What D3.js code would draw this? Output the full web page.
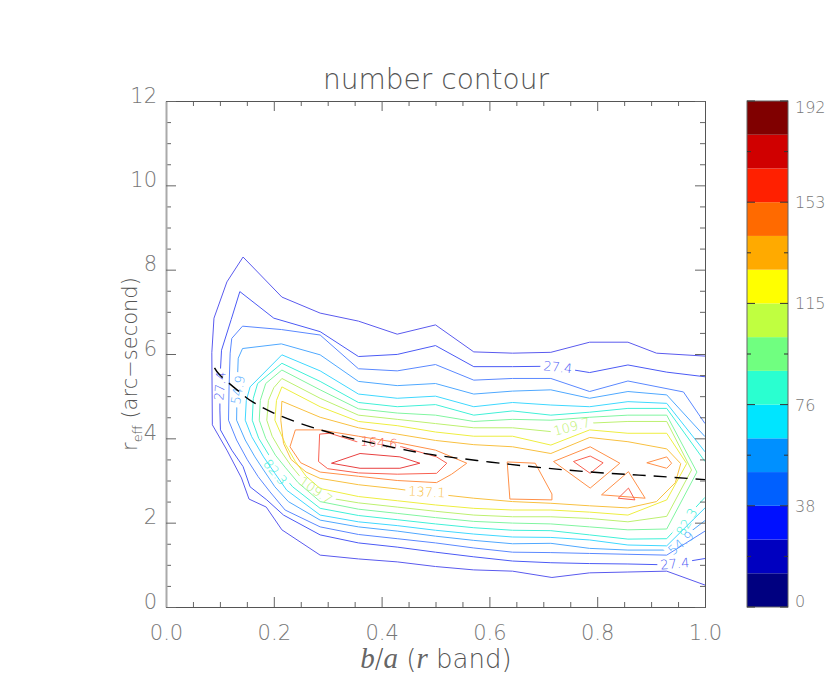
<!DOCTYPE html>
<html>
<head>
<meta charset="utf-8">
<script src="https://cdn.jsdelivr.net/npm/d3@7"></script>
<style>
body { margin: 0; background: #fff; }
text { font-family: "DejaVu Sans", sans-serif; font-weight: 200; }
</style>
</head>
<body>
<div id="chart"></div>
<script>
// contour levels and the colour each line is drawn with
const levels = [13.7, 27.4, 41.1, 54.9, 68.6, 82.3, 96.0, 109.7, 123.4, 137.1, 150.9, 164.6, 178.3]
const levelColors = ["#5a5aee", "#4b5af5", "#5a88ff", "#4fa8ff", "#3fd8ff", "#40f0d8", "#80f5a0",
    "#bdf070", "#eeee40", "#f8c040", "#ff9048", "#f86050", "#e84040"]

// contour lines, [b/a, r_eff]
const c01 = [[1.0,0.52],[0.929,0.85],[0.857,0.83],[0.786,0.81],[0.716,0.70],[0.643,0.85],[0.571,0.88],[0.5,0.96],[0.429,1.07],[0.357,1.14],[0.286,1.23],[0.215,1.83],[0.186,2.37],[0.154,2.56],[0.140,3.06],[0.113,3.72],[0.086,4.32],[0.085,6.03],[0.089,6.85],[0.113,7.71],[0.143,8.30],[0.215,7.35],[0.286,6.97],[0.357,6.78],[0.429,6.47],[0.5,6.69],[0.571,6.05],[0.643,6.02],[0.714,6.04],[0.786,6.28],[0.857,6.28],[0.91,6.02],[1.0,5.95]]
const c02 = [[1.0,1.15],[0.929,1.00],[0.857,1.02],[0.786,1.03],[0.714,1.05],[0.643,1.09],[0.571,1.19],[0.5,1.30],[0.429,1.42],[0.357,1.52],[0.286,1.71],[0.218,2.18],[0.187,2.54],[0.156,2.85],[0.143,3.33],[0.122,3.72],[0.101,4.20],[0.1,4.67],[0.1,5.38],[0.103,6.09],[0.121,6.82],[0.137,7.48],[0.2,6.85],[0.286,6.53],[0.357,5.94],[0.429,5.99],[0.5,6.20],[0.571,5.70],[0.643,5.70],[0.714,5.71],[0.786,5.56],[0.857,5.74],[0.929,5.57],[1.0,5.46]]
const c03 = [[1.0,1.80],[0.929,1.23],[0.857,1.25],[0.786,1.27],[0.714,1.29],[0.643,1.30],[0.571,1.40],[0.5,1.52],[0.429,1.62],[0.357,1.72],[0.286,1.90],[0.221,2.30],[0.193,2.73],[0.171,3.09],[0.151,3.49],[0.131,3.96],[0.116,4.43],[0.117,5.22],[0.119,6.02],[0.122,6.37],[0.142,6.66],[0.214,6.58],[0.286,6.45],[0.357,5.65],[0.429,5.60],[0.5,5.75],[0.571,5.38],[0.643,5.42],[0.714,5.42],[0.786,5.11],[0.857,5.36],[0.96,5.10],[1.0,4.35]]
const c04 = [[1.0,2.05],[0.929,1.35],[0.857,1.35],[0.786,1.39],[0.714,1.51],[0.643,1.50],[0.571,1.58],[0.5,1.68],[0.429,1.80],[0.357,1.90],[0.286,2.06],[0.227,2.50],[0.202,2.85],[0.181,3.25],[0.165,3.56],[0.147,3.96],[0.131,4.43],[0.132,5.2],[0.134,5.9],[0.142,6.13],[0.214,6.24],[0.286,5.98],[0.357,5.35],[0.429,5.25],[0.5,5.30],[0.571,5.05],[0.643,5.12],[0.714,5.15],[0.786,4.95],[0.857,5.11],[0.929,5.03],[1.0,4.04]]
const c05 = [[1.0,2.35],[0.929,1.45],[0.857,1.47],[0.786,1.59],[0.714,1.65],[0.643,1.66],[0.571,1.73],[0.5,1.82],[0.429,1.93],[0.357,2.02],[0.286,2.18],[0.224,2.77],[0.202,3.17],[0.181,3.56],[0.159,4.04],[0.147,4.43],[0.149,4.9],[0.156,5.22],[0.215,5.98],[0.286,5.6],[0.357,5.05],[0.429,4.95],[0.5,5.0],[0.571,4.75],[0.643,4.85],[0.714,4.79],[0.786,4.75],[0.857,4.87],[0.929,4.83],[1.0,3.68]]
const c06 = [[1.0,2.60],[0.929,1.62],[0.857,1.61],[0.786,1.71],[0.714,1.81],[0.643,1.82],[0.571,1.88],[0.5,1.97],[0.429,2.07],[0.357,2.17],[0.286,2.34],[0.235,2.85],[0.212,3.2],[0.193,3.56],[0.172,4.0],[0.160,4.43],[0.162,4.95],[0.17,5.3],[0.215,5.78],[0.286,5.35],[0.357,4.85],[0.429,4.75],[0.5,4.80],[0.571,4.55],[0.643,4.65],[0.714,4.55],[0.786,4.62],[0.857,4.71],[0.929,4.71],[1.0,3.45]]
const c07 = [[0.985,3.2],[0.929,1.85],[0.857,1.83],[0.786,1.90],[0.714,1.97],[0.643,1.99],[0.571,2.03],[0.5,2.12],[0.429,2.22],[0.357,2.32],[0.286,2.50],[0.245,2.95],[0.222,3.3],[0.203,3.6],[0.185,4.0],[0.173,4.43],[0.175,4.9],[0.185,5.3],[0.215,5.62],[0.286,5.15],[0.357,4.70],[0.429,4.60],[0.5,4.55],[0.571,4.40],[0.643,4.45],[0.714,4.43],[0.786,4.50],[0.857,4.55],[0.929,4.55],[0.985,3.2]]
const c08 = [[0.975,3.25],[0.929,2.15],[0.857,2.02],[0.786,2.10],[0.714,2.14],[0.643,2.14],[0.571,2.18],[0.5,2.27],[0.429,2.37],[0.357,2.47],[0.286,2.62],[0.255,3.0],[0.232,3.35],[0.213,3.7],[0.197,4.05],[0.187,4.43],[0.19,4.9],[0.2,5.2],[0.215,5.42],[0.286,4.95],[0.357,4.55],[0.429,4.45],[0.5,4.35],[0.571,4.25],[0.643,4.25],[0.714,4.16],[0.786,4.36],[0.857,4.40],[0.929,4.40],[0.975,3.25]]
const c09 = [[0.966,3.4],[0.929,2.54],[0.857,2.18],[0.786,2.25],[0.714,2.30],[0.643,2.30],[0.571,2.34],[0.5,2.42],[0.429,2.52],[0.357,2.62],[0.286,2.81],[0.26,3.1],[0.24,3.45],[0.222,3.85],[0.202,4.43],[0.205,4.9],[0.215,5.22],[0.286,4.75],[0.357,4.40],[0.429,4.30],[0.5,4.15],[0.571,4.05],[0.643,4.05],[0.714,3.84],[0.786,4.20],[0.857,4.12],[0.929,4.12],[0.966,3.4]]
const c10 = [[0.215,4.88],[0.213,4.43],[0.218,3.88],[0.232,3.5],[0.26,3.2],[0.286,3.05],[0.357,2.9],[0.429,2.80],[0.5,2.68],[0.571,2.58],[0.643,2.50],[0.714,2.46],[0.786,2.40],[0.857,2.35],[0.91,2.5],[0.945,2.95],[0.955,3.4],[0.929,3.75],[0.857,3.92],[0.786,4.02],[0.714,3.64],[0.643,3.80],[0.571,3.85],[0.5,3.95],[0.429,4.10],[0.357,4.25],[0.286,4.50],[0.215,4.88]]
const c11a = [[0.24,4.2],[0.23,3.8],[0.25,3.42],[0.286,3.2],[0.357,3.1],[0.429,3.0],[0.502,2.95],[0.53,3.15],[0.558,3.41],[0.5,3.72],[0.429,3.9],[0.357,4.05],[0.286,4.2],[0.24,4.2]]
const c11b = [[0.633,3.44],[0.685,3.41],[0.716,2.68],[0.716,2.54],[0.638,2.56],[0.633,3.44]]
const c11c = [[0.719,3.45],[0.787,3.80],[0.842,3.41],[0.787,2.82],[0.719,3.45]]
const c11d = [[0.808,2.66],[0.858,3.21],[0.889,2.58],[0.808,2.66]]
const c11e = [[0.892,3.42],[0.929,3.56],[0.938,3.41],[0.929,3.29],[0.892,3.42]]
const c12a = [[0.285,4.1],[0.304,4.12],[0.354,3.92],[0.437,3.80],[0.502,3.56],[0.521,3.41],[0.502,3.17],[0.429,3.15],[0.357,3.18],[0.30,3.28],[0.283,3.45],[0.285,4.1]]
const c12b = [[0.756,3.45],[0.787,3.58],[0.811,3.42],[0.787,3.17],[0.756,3.45]]
const c12c = [[0.839,2.58],[0.858,2.82],[0.870,2.54],[0.839,2.58]]
const c13 = [[0.307,3.41],[0.360,3.64],[0.434,3.56],[0.471,3.41],[0.434,3.29],[0.360,3.29],[0.307,3.41]]
const contourLines = [[c01], [c02], [c03], [c04], [c05], [c06], [c07], [c08], [c09], [c10],
    [c11a, c11b, c11c, c11d, c11e], [c12a, c12b, c12c], [c13]]

// labels written on the lines
const labelLevel = [27.4, 54.9, 27.4, 109.7, 164.6, 137.1, 82.3, 109.7, 82.3, 54.9, 27.4]
const labelX = [0.100, 0.133, 0.727, 0.753, 0.395, 0.484, 0.203, 0.278, 0.966, 0.955, 0.944]
const labelY = [5.24, 5.15, 5.69, 4.28, 3.90, 2.73, 3.20, 2.77, 2.02, 1.52, 1.03]
const labelAngle = [-85, -80, 6, -15, 5, 3, 50, 35, -60, -40, -5]

// dashed fit line
const fitX = [0.09, 0.1, 0.125, 0.143, 0.16, 0.2, 0.25, 0.3, 0.35, 0.4, 0.45, 0.5, 0.6, 0.7, 0.8, 0.9, 1.0]
const fitY = [5.67, 5.5, 5.22, 5.03, 4.87, 4.6, 4.35, 4.15, 3.98, 3.84, 3.71, 3.6, 3.44, 3.3, 3.19, 3.11, 3.02]

// axes
const xMajor = [0, 0.2, 0.4, 0.6, 0.8, 1.0]
const xMinor = [0.05, 0.1, 0.15, 0.25, 0.3, 0.35, 0.45, 0.5, 0.55, 0.65, 0.7, 0.75, 0.85, 0.9, 0.95]
const yMajor = [0, 2, 4, 6, 8, 10, 12]
const yMinor = [0.5, 1, 1.5, 2.5, 3, 3.5, 4.5, 5, 5.5, 6.5, 7, 7.5, 8.5, 9, 9.5, 10.5, 11, 11.5]

// colour bar
const cbEdges = [0, 12.8, 25.6, 38.4, 51.2, 64, 76.8, 89.6, 102.4, 115.2, 128, 140.8, 153.6, 166.4, 179.2, 192]
const cbColors = ["#000080", "#0000c0", "#0010ff", "#0060ff", "#0090ff", "#00e5ff", "#2affd0", "#70ff80",
    "#c0ff40", "#ffff00", "#ffaa00", "#ff6a00", "#ff2000", "#d00000", "#800000"]
const cbMajor = [0, 38.4, 76.8, 115.2, 153.6, 192]
const cbLabels = ["0", "38", "76", "115", "153", "192"]
const cbMinor = [19.2, 57.6, 96, 134.4, 172.8]

const W = 830, H = 675
const svg = d3.select("#chart").append("svg")
    .attr("width", W)
    .attr("height", H)
    .style("background", "#fff")

const x = d3.scaleLinear().domain([0, 1]).range([166, 705])
const y = d3.scaleLinear().domain([0, 12]).range([607, 101])
const line = d3.line().x(d => x(d[0])).y(d => y(d[1]))

const defs = svg.append("defs")
defs.append("clipPath").attr("id", "plotclip")
    .append("rect").attr("x", 166).attr("y", 101).attr("width", 539).attr("height", 506)

// one mask per level so a label only cuts its own line
levels.forEach((lv, i) => {
    defs.append("mask").attr("id", "mask" + i)
        .attr("maskUnits", "userSpaceOnUse")
        .attr("x", 0).attr("y", 0).attr("width", W).attr("height", H)
        .append("rect").attr("width", W).attr("height", H).attr("fill", "#fff")
})

// contour lines
const gc = svg.append("g").attr("clip-path", "url(#plotclip)")
contourLines.forEach((pieces, i) => {
    gc.append("g")
        .attr("mask", "url(#mask" + i + ")")
        .selectAll("path")
        .data(pieces)
        .enter()
        .append("path")
        .attr("d", line)
        .attr("fill", "none")
        .attr("stroke", levelColors[i])
        .attr("stroke-width", 1)
})

// contour labels
const gl = svg.append("g")
labelLevel.forEach((lv, j) => {
    const i = levels.indexOf(lv)
    const tr = "translate(" + x(labelX[j]) + "," + y(labelY[j]) + ") rotate(" + labelAngle[j] + ")"
    const t = gl.append("text")
        .attr("transform", tr)
        .attr("text-anchor", "middle")
        .attr("dy", "0.36em")
        .attr("font-size", 13)
        .attr("fill", levelColors[i])
        .text(lv.toFixed(1))
    const len = t.node().getComputedTextLength()
    d3.select("#mask" + i).append("rect")
        .attr("transform", tr)
        .attr("x", -len / 2 - 3).attr("y", -7)
        .attr("width", len + 6).attr("height", 14)
        .attr("fill", "#000")
})

// dashed curve
svg.append("path")
    .datum(fitX.map((v, k) => [v, fitY[k]]))
    .attr("d", d3.line().x(d => x(d[0])).y(d => y(d[1])).curve(d3.curveNatural))
    .attr("fill", "none")
    .attr("stroke", "#000")
    .attr("stroke-width", 1.4)
    .attr("stroke-dasharray", "13,8")

// axes, ticks point inwards on all four sides
function styleAxis(g) {
    g.select(".domain").attr("stroke", "#555")
    g.selectAll(".tick line").attr("stroke", "#666")
    g.selectAll(".tick text").attr("fill", "#777").attr("font-size", 21)
        .attr("font-family", "DejaVu Sans").attr("font-weight", 200)
}
svg.append("g").attr("transform", "translate(0,607)")
    .call(d3.axisBottom(x).tickValues(xMinor).tickSize(-5).tickSizeOuter(0).tickFormat(""))
    .call(styleAxis)
svg.append("g").attr("transform", "translate(0,607)")
    .call(d3.axisBottom(x).tickValues(xMajor).tickSize(-10).tickSizeOuter(0).tickPadding(18).tickFormat(d3.format(".1f")))
    .call(styleAxis)
svg.append("g").attr("transform", "translate(0,101)")
    .call(d3.axisTop(x).tickValues(xMinor).tickSize(-5).tickSizeOuter(0).tickFormat(""))
    .call(styleAxis)
svg.append("g").attr("transform", "translate(0,101)")
    .call(d3.axisTop(x).tickValues(xMajor).tickSize(-10).tickSizeOuter(0).tickFormat(""))
    .call(styleAxis)
svg.append("g").attr("transform", "translate(705,0)")
    .call(d3.axisRight(y).tickValues(yMinor).tickSize(-5).tickSizeOuter(0).tickFormat(""))
    .call(styleAxis)
svg.append("g").attr("transform", "translate(705,0)")
    .call(d3.axisRight(y).tickValues(yMajor).tickSize(-10).tickSizeOuter(0).tickFormat(""))
    .call(styleAxis)
svg.append("g").attr("transform", "translate(166,0)")
    .call(d3.axisLeft(y).tickValues(yMinor).tickSize(-5).tickSizeOuter(0).tickFormat(""))
    .call(styleAxis)
const yl = svg.append("g").attr("transform", "translate(166,0)")
    .call(d3.axisLeft(y).tickValues(yMajor).tickSize(-10).tickSizeOuter(0).tickPadding(9))
    .call(styleAxis)
yl.selectAll(".tick text").attr("dy", "0.05em")
yl.select(".domain").attr("stroke", "#aaa").attr("stroke-width", 2)

// title and axis titles
svg.append("text")
    .attr("x", 436).attr("y", 89)
    .attr("text-anchor", "middle")
    .attr("font-size", 28)
    .attr("fill", "#555")
    .text("number contour")

const xt = svg.append("text")
    .attr("x", 436).attr("y", 668)
    .attr("text-anchor", "middle")
    .attr("font-size", 26)
    .attr("fill", "#555")
xt.append("tspan").attr("font-family", "Liberation Serif").attr("font-style", "italic").attr("font-size", 29).attr("fill", "#666").text("b")
xt.append("tspan").text("/")
xt.append("tspan").attr("font-family", "Liberation Serif").attr("font-style", "italic").attr("font-size", 29).attr("fill", "#666").text("a")
xt.append("tspan").text(" (")
xt.append("tspan").attr("font-family", "Liberation Serif").attr("font-style", "italic").attr("font-size", 29).attr("fill", "#666").text("r")
xt.append("tspan").text(" band)")

const ytl = svg.append("text")
    .attr("transform", "translate(137,364) rotate(-90)")
    .attr("text-anchor", "middle")
    .attr("font-size", 21)
    .attr("fill", "#555")
ytl.append("tspan").text("r")
ytl.append("tspan").attr("font-size", 13).attr("dy", 5).text("eff")
ytl.append("tspan").attr("dy", -5).text(" (arc\u2212second)")

// colour bar
const cy = d3.scaleLinear().domain([0, 192]).range([607, 101])
const cb = svg.append("g")
cb.selectAll("rect.band")
    .data(cbColors)
    .enter()
    .append("rect")
    .attr("class", "band")
    .attr("x", 747)
    .attr("width", 41)
    .attr("y", (d, k) => cy(cbEdges[k + 1]))
    .attr("height", (d, k) => cy(cbEdges[k]) - cy(cbEdges[k + 1]))
    .attr("fill", d => d)
cb.append("rect")
    .attr("x", 747).attr("y", 101).attr("width", 41).attr("height", 506)
    .attr("fill", "none").attr("stroke", "#666").attr("stroke-width", 1)
cb.selectAll("line.tk")
    .data(cbMajor.concat(cbMinor))
    .enter()
    .append("line")
    .attr("class", "tk")
    .attr("x1", 747).attr("x2", d => 747 + (cbMajor.includes(d) ? 8 : 4))
    .attr("y1", d => cy(d)).attr("y2", d => cy(d))
    .attr("stroke", "#333")
cb.selectAll("line.tk2")
    .data(cbMajor.concat(cbMinor))
    .enter()
    .append("line")
    .attr("class", "tk2")
    .attr("x1", 788).attr("x2", d => 788 - (cbMajor.includes(d) ? 8 : 4))
    .attr("y1", d => cy(d)).attr("y2", d => cy(d))
    .attr("stroke", "#333")
cb.selectAll("text.cbl")
    .data(cbMajor)
    .enter()
    .append("text")
    .attr("class", "cbl")
    .attr("x", 795)
    .attr("y", (d, k) => k === 0 ? cy(d) : (k === cbMajor.length - 1 ? cy(d) + 12 : cy(d) + 6))
    .attr("font-size", 16)
    .attr("fill", "#777")
    .text((d, k) => cbLabels[k])
</script>
</body>
</html>
